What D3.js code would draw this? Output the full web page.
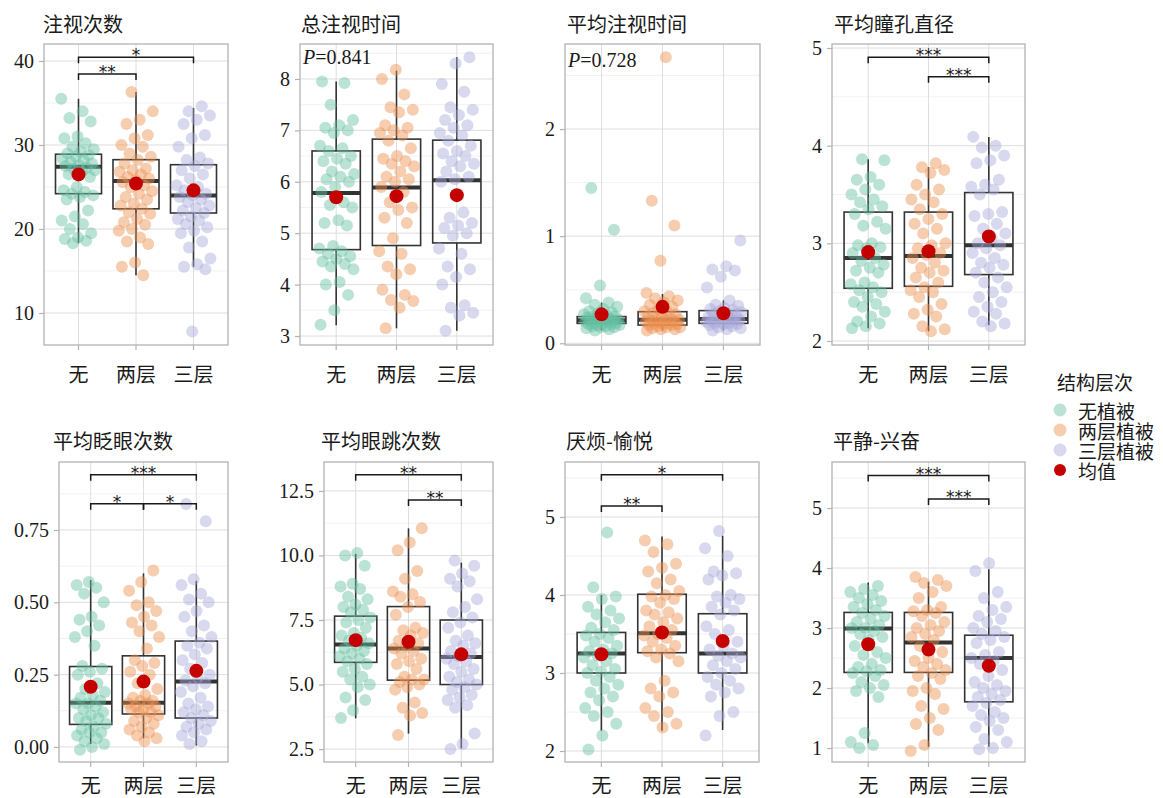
<!DOCTYPE html>
<html>
<head>
<meta charset="utf-8">
<script src="https://cdn.jsdelivr.net/npm/d3@7"></script>
<style>
  body { margin: 0; background: #fff; }
  svg { display: block; }
  .tick text { font-family: "Liberation Serif", "DejaVu Serif", serif; font-size: 20px; }
</style>
</head>
<body>
<svg width="1163" height="798"></svg>
<script>
// categorieen en teksten
const groups = ['无', '两层', '三层'];
const legendTitle = '结构层次';
const legendLabels = ['无植被', '两层植被', '三层植被', '均值'];
const titles = ['注视次数', '总注视时间', '平均注视时间', '平均瞳孔直径',
                '平均眨眼次数', '平均眼跳次数', '厌烦-愉悦', '平静-兴奋'];

const fixCount = [
  [35.5, 34.0, 33.2, 32.8, 31.0, 30.8, 30.2, 29.8, 29.5, 29.2, 29.0, 28.8, 28.6, 28.4, 28.2, 28.0, 27.8, 27.6, 27.5, 27.3, 27.2, 27.0, 26.8, 26.5, 26.2, 25.0, 24.6, 24.4, 24.2, 24.0, 23.8, 23.5, 22.2, 21.5, 21.0, 20.6, 20.0, 19.5, 19.0, 18.8, 18.6, 18.3],
  [36.3, 34.0, 33.0, 32.5, 31.2, 30.8, 30.0, 29.8, 29.0, 28.6, 28.2, 27.8, 27.2, 27.0, 26.8, 26.5, 26.2, 26.0, 25.8, 25.6, 25.2, 25.0, 24.5, 24.2, 23.8, 23.5, 23.0, 22.8, 22.4, 22.0, 21.8, 21.2, 20.8, 20.5, 20.0, 19.8, 19.0, 18.5, 18.2, 16.0, 15.5, 14.5],
  [34.6, 34.0, 33.5, 33.0, 32.5, 31.2, 30.8, 29.8, 28.5, 28.2, 27.8, 27.5, 27.0, 26.5, 26.0, 25.2, 25.0, 24.6, 24.2, 24.0, 23.8, 23.5, 23.2, 22.8, 22.5, 22.2, 21.9, 21.5, 21.2, 21.0, 20.6, 20.2, 19.8, 19.5, 18.5, 17.8, 16.5, 15.8, 15.5, 15.2, 7.8]
];
const fixTotal = [
  [7.95, 7.92, 7.5, 7.2, 7.1, 7.05, 7.0, 6.95, 6.7, 6.65, 6.6, 6.5, 6.45, 6.4, 6.35, 6.2, 6.15, 6.1, 6.05, 6.0, 5.9, 5.8, 5.6, 5.55, 5.5, 5.25, 5.2, 5.15, 4.75, 4.7, 4.65, 4.6, 4.55, 4.5, 4.45, 4.4, 4.35, 4.3, 4.05, 4.0, 3.8, 3.5, 3.22],
  [8.18, 8.0, 7.7, 7.45, 7.4, 7.35, 7.1, 7.05, 7.0, 6.95, 6.9, 6.8, 6.65, 6.5, 6.45, 6.4, 6.35, 6.3, 6.2, 6.1, 6.05, 6.0, 5.9, 5.8, 5.6, 5.5, 5.45, 5.3, 5.2, 4.9, 4.65, 4.6, 4.35, 4.3, 4.2, 3.9, 3.8, 3.7, 3.68, 3.55, 3.15],
  [8.42, 8.3, 7.9, 7.75, 7.45, 7.4, 7.3, 7.2, 7.1, 7.05, 6.95, 6.9, 6.8, 6.7, 6.6, 6.55, 6.5, 6.4, 6.35, 6.3, 6.2, 6.1, 6.05, 6.0, 5.4, 5.3, 5.2, 5.15, 5.1, 5.0, 4.95, 4.7, 4.6, 4.35, 4.3, 4.15, 4.0, 3.6, 3.55, 3.45, 3.4, 3.1]
];
const fixMean = [
  [1.45, 1.06, 0.54, 0.42, 0.38, 0.36, 0.34, 0.32, 0.30, 0.29, 0.28, 0.27, 0.26, 0.25, 0.25, 0.24, 0.24, 0.23, 0.23, 0.22, 0.22, 0.21, 0.21, 0.21, 0.20, 0.20, 0.19, 0.19, 0.19, 0.18, 0.18, 0.17, 0.17, 0.16, 0.16, 0.15, 0.15, 0.14, 0.13, 0.12],
  [2.67, 1.33, 1.10, 0.77, 0.47, 0.44, 0.42, 0.40, 0.38, 0.36, 0.34, 0.32, 0.30, 0.29, 0.28, 0.27, 0.26, 0.25, 0.24, 0.23, 0.22, 0.22, 0.21, 0.21, 0.20, 0.20, 0.19, 0.19, 0.18, 0.18, 0.17, 0.17, 0.16, 0.15, 0.15, 0.14, 0.13, 0.13, 0.12],
  [0.96, 0.72, 0.69, 0.68, 0.62, 0.52, 0.40, 0.36, 0.35, 0.33, 0.32, 0.31, 0.30, 0.29, 0.28, 0.27, 0.26, 0.25, 0.24, 0.23, 0.23, 0.22, 0.22, 0.21, 0.21, 0.20, 0.20, 0.19, 0.19, 0.18, 0.18, 0.17, 0.16, 0.15, 0.14, 0.13, 0.12]
];
const pupil = [
  [3.86, 3.85, 3.68, 3.65, 3.6, 3.55, 3.5, 3.45, 3.42, 3.38, 3.35, 3.3, 3.22, 3.18, 3.15, 3.0, 2.98, 2.96, 2.95, 2.9, 2.85, 2.82, 2.78, 2.75, 2.72, 2.7, 2.6, 2.58, 2.55, 2.52, 2.5, 2.45, 2.4, 2.38, 2.35, 2.3, 2.25, 2.2, 2.18, 2.15, 2.13],
  [3.82, 3.78, 3.75, 3.72, 3.6, 3.55, 3.5, 3.45, 3.42, 3.35, 3.3, 3.25, 3.2, 3.15, 3.1, 3.0, 2.98, 2.95, 2.9, 2.88, 2.85, 2.8, 2.75, 2.72, 2.7, 2.65, 2.6, 2.55, 2.52, 2.5, 2.45, 2.38, 2.32, 2.28, 2.25, 2.15, 2.12, 2.1],
  [4.09, 4.0, 3.98, 3.9, 3.85, 3.82, 3.65, 3.6, 3.58, 3.55, 3.5, 3.32, 3.3, 3.28, 3.2, 3.15, 3.1, 3.05, 3.0, 2.98, 2.95, 2.9, 2.85, 2.8, 2.78, 2.75, 2.7, 2.65, 2.6, 2.55, 2.5, 2.45, 2.4, 2.35, 2.3, 2.28, 2.2, 2.18, 2.15]
];
const blinks = [
  [0.57, 0.56, 0.55, 0.53, 0.50, 0.45, 0.44, 0.42, 0.40, 0.38, 0.35, 0.28, 0.27, 0.26, 0.25, 0.22, 0.20, 0.19, 0.18, 0.17, 0.16, 0.15, 0.15, 0.14, 0.13, 0.12, 0.11, 0.10, 0.10, 0.09, 0.08, 0.07, 0.06, 0.05, 0.05, 0.04, 0.03, 0.02, 0.01, 0.0, -0.01],
  [0.61, 0.57, 0.54, 0.50, 0.49, 0.47, 0.45, 0.43, 0.42, 0.40, 0.38, 0.34, 0.30, 0.29, 0.28, 0.26, 0.25, 0.22, 0.20, 0.18, 0.17, 0.16, 0.16, 0.15, 0.15, 0.14, 0.14, 0.13, 0.13, 0.12, 0.12, 0.11, 0.10, 0.09, 0.08, 0.07, 0.06, 0.05, 0.04, 0.03, 0.02],
  [0.84, 0.78, 0.58, 0.56, 0.53, 0.51, 0.50, 0.47, 0.45, 0.42, 0.40, 0.38, 0.36, 0.35, 0.34, 0.32, 0.30, 0.29, 0.27, 0.25, 0.24, 0.23, 0.22, 0.21, 0.19, 0.17, 0.15, 0.14, 0.13, 0.12, 0.11, 0.10, 0.09, 0.08, 0.07, 0.06, 0.05, 0.04, 0.02, 0.01]
];
const saccades = [
  [10.1, 10.0, 9.6, 8.9, 8.8, 8.7, 8.4, 8.3, 8.1, 8.0, 7.9, 7.8, 7.6, 7.5, 7.4, 7.2, 7.0, 6.9, 6.8, 6.7, 6.6, 6.5, 6.4, 6.3, 6.2, 6.1, 6.0, 5.9, 5.8, 5.6, 5.5, 5.3, 5.2, 5.0, 4.9, 4.5, 4.4, 4.0, 3.7],
  [11.05, 10.5, 10.2, 9.4, 9.1, 8.6, 8.5, 8.4, 8.2, 8.0, 7.7, 7.2, 7.1, 7.0, 6.9, 6.7, 6.6, 6.5, 6.4, 6.3, 6.2, 6.0, 5.9, 5.8, 5.6, 5.3, 5.2, 5.2, 5.1, 5.0, 4.9, 4.8, 4.3, 4.1, 3.9, 3.8, 3.05],
  [9.8, 9.6, 9.3, 9.1, 9.0, 8.8, 8.3, 8.0, 7.8, 7.6, 7.4, 7.2, 6.9, 6.7, 6.6, 6.5, 6.3, 6.2, 6.1, 6.0, 5.9, 5.8, 5.6, 5.5, 5.3, 5.2, 5.1, 5.0, 4.9, 4.8, 4.6, 4.5, 4.4, 4.2, 4.1, 3.1, 2.7, 2.5]
];
const pleasure = [
  [4.8, 4.1, 3.98, 3.95, 3.85, 3.8, 3.75, 3.7, 3.65, 3.58, 3.55, 3.5, 3.48, 3.45, 3.4, 3.35, 3.3, 3.28, 3.25, 3.22, 3.2, 3.15, 3.1, 3.05, 3.02, 3.0, 2.95, 2.9, 2.85, 2.8, 2.75, 2.7, 2.65, 2.55, 2.5, 2.45, 2.35, 2.2, 2.02],
  [4.7, 4.65, 4.55, 4.4, 4.35, 4.3, 4.2, 4.15, 4.05, 4.0, 3.98, 3.95, 3.9, 3.8, 3.78, 3.75, 3.7, 3.65, 3.6, 3.55, 3.5, 3.48, 3.45, 3.4, 3.35, 3.3, 3.28, 3.25, 3.2, 3.15, 2.9, 2.8, 2.75, 2.7, 2.55, 2.5, 2.45, 2.35, 2.3],
  [4.82, 4.6, 4.5, 4.3, 4.28, 4.25, 4.2, 4.0, 3.98, 3.95, 3.9, 3.85, 3.8, 3.75, 3.6, 3.55, 3.5, 3.4, 3.35, 3.3, 3.25, 3.22, 3.2, 3.15, 3.1, 3.05, 3.0, 2.95, 2.9, 2.85, 2.8, 2.75, 2.7, 2.5, 2.45, 2.2]
];
const arousal = [
  [3.7, 3.65, 3.6, 3.55, 3.5, 3.45, 3.4, 3.35, 3.3, 3.25, 3.2, 3.15, 3.1, 3.05, 3.0, 3.0, 2.95, 2.9, 2.85, 2.8, 2.7, 2.6, 2.55, 2.5, 2.4, 2.35, 2.3, 2.28, 2.25, 2.2, 2.1, 2.05, 2.0, 1.95, 1.85, 1.25, 1.1, 1.05, 1.0],
  [3.85, 3.8, 3.75, 3.7, 3.6, 3.5, 3.35, 3.3, 3.28, 3.25, 3.2, 3.1, 3.05, 3.0, 2.95, 2.9, 2.85, 2.8, 2.7, 2.6, 2.5, 2.45, 2.4, 2.35, 2.3, 2.25, 2.2, 2.15, 2.0, 1.95, 1.9, 1.7, 1.65, 1.5, 1.4, 1.3, 1.05, 0.95],
  [4.08, 3.95, 3.6, 3.5, 3.35, 3.3, 3.2, 3.15, 3.1, 3.0, 2.95, 2.9, 2.85, 2.8, 2.75, 2.6, 2.55, 2.5, 2.45, 2.4, 2.3, 2.2, 2.1, 2.05, 2.0, 1.95, 1.9, 1.85, 1.8, 1.75, 1.7, 1.6, 1.55, 1.5, 1.45, 1.35, 1.3, 1.15, 1.1, 1.0, 0.98]
];
const points = [fixCount, fixTotal, fixMean, pupil, blinks, saccades, pleasure, arousal];

// boxplot: [onder snorhaar, q1, mediaan, q3, boven snorhaar] per groep
const boxes = [
  [[18.3, 24.2, 27.4, 28.9, 35.5], [14.5, 22.4, 25.7, 28.25, 36.3], [15.5, 21.9, 24.0, 27.65, 34.4]],
  [[3.21, 4.68, 5.78, 6.60, 7.95], [3.15, 4.76, 5.89, 6.83, 8.16], [3.10, 4.81, 6.03, 6.81, 8.42]],
  [[0.12, 0.186, 0.214, 0.249, 0.38], [0.12, 0.17, 0.22, 0.295, 0.46], [0.12, 0.186, 0.226, 0.305, 0.40]],
  [[2.13, 2.54, 2.85, 3.32, 3.86], [2.10, 2.56, 2.87, 3.32, 3.78], [2.16, 2.68, 2.98, 3.52, 4.09]],
  [[0.01, 0.078, 0.153, 0.278, 0.577], [0.03, 0.114, 0.153, 0.315, 0.60], [0.005, 0.10, 0.226, 0.366, 0.574]],
  [[3.69, 5.86, 6.55, 7.65, 10.06], [3.1, 5.17, 6.40, 8.02, 11.05], [2.53, 5.0, 6.07, 7.5, 9.72]],
  [[2.26, 3.0, 3.25, 3.52, 4.0], [2.26, 3.26, 3.51, 4.01, 4.75], [2.27, 3.0, 3.25, 3.76, 4.76]],
  [[1.08, 2.26, 2.99, 3.26, 3.76], [1.02, 2.26, 2.76, 3.26, 3.77], [1.02, 1.77, 2.5, 2.88, 3.98]]
];
// gemiddelde per groep
const means = [
  [26.5, 25.4, 24.6], [5.70, 5.72, 5.74], [0.27, 0.34, 0.28], [2.91, 2.92, 3.07],
  [0.208, 0.226, 0.263], [6.72, 6.66, 6.17], [3.24, 3.52, 3.41], [2.73, 2.64, 2.37]
];

// y ticks en labels
const yTicks = [[10, 20, 30, 40], [3, 4, 5, 6, 7, 8], [0, 1, 2], [2, 3, 4, 5],
                [0, 0.25, 0.5, 0.75], [2.5, 5, 7.5, 10, 12.5], [2, 3, 4, 5], [1, 2, 3, 4, 5]];
const yTickFormat = ['d', 'd', 'd', 'd', '.2f', '.1f', 'd', 'd'];

// significantie: [van groep, naar groep, label, hoogte]
const sigs = [
  [[0, 1, '**', 38.45], [0, 2, '*', 40.44]],
  [],
  [],
  [[0, 2, '***', 4.905], [1, 2, '***', 4.706]],
  [[0, 2, '***', 0.941], [0, 1, '*', 0.841], [1, 2, '*', 0.841]],
  [[0, 2, '**', 13.13], [1, 2, '**', 12.15]],
  [[0, 2, '*', 5.54], [0, 1, '**', 5.14]],
  [[0, 2, '***', 5.54], [1, 2, '***', 5.15]]
];
const pValues = [null, '0.841', '0.728', null, null, null, null, null];

// layout van de 8 panelen (pixels)
const layout = [
  {x0: 44,  x1: 228,  y0: 44,  y1: 345, dom: [6.19, 42.02],  tx: 43,  ty: 23,  pY: 0},
  {x0: 300, x1: 493,  y0: 44,  y1: 345, dom: [2.825, 8.68],  tx: 301, ty: 23,  pY: 64},
  {x0: 565, x1: 760,  y0: 44,  y1: 345, dom: [-0.016, 2.794], tx: 567, ty: 23, pY: 67},
  {x0: 832, x1: 1025, y0: 44,  y1: 345, dom: [1.959, 5.041], tx: 834, ty: 23,  pY: 0},
  {x0: 59,  x1: 228,  y0: 462, y1: 762, dom: [-0.052, 0.985], tx: 53, ty: 440, pY: 0},
  {x0: 324, x1: 493,  y0: 462, y1: 762, dom: [2.0, 13.62],   tx: 321, ty: 440, pY: 0},
  {x0: 565, x1: 759,  y0: 462, y1: 762, dom: [1.859, 5.705], tx: 566, ty: 440, pY: 0},
  {x0: 832, x1: 1025, y0: 462, y1: 762, dom: [0.767, 5.767], tx: 833, ty: 440, pY: 0}
];

const colors = ['#66c2a5', '#ee9150', '#a9a9d9'];
const ptAlpha = 0.45;
const meanColor = '#c40000';
const cjk = '"Noto Sans CJK SC", "Noto Sans", sans-serif';
const serif = '"Liberation Serif", "DejaVu Serif", serif';

const svg = d3.select('svg');

layout.forEach((L, p) => {
  const g = svg.append('g');

  // ggplot: 0.6 extra aan elke kant -> midden van elke groep
  const step = (L.x1 - L.x0) / 3.2;
  const cx = i => L.x0 + step * (0.6 + i);
  const y = d3.scaleLinear().domain(L.dom).range([L.y1, L.y0]);

  // minor grid
  const t = yTicks[p];
  const st = t[1] - t[0];
  const minor = [t[0] - st / 2].concat(t.map(v => v + st / 2))
    .filter(v => v > L.dom[0] && v < L.dom[1]);
  g.selectAll('.minor').data(minor).enter().append('line')
    .attr('x1', L.x0).attr('x2', L.x1)
    .attr('y1', d => y(d)).attr('y2', d => y(d))
    .attr('stroke', '#efefef').attr('stroke-width', 0.8);
  // major grid
  g.selectAll('.major').data(t).enter().append('line')
    .attr('x1', L.x0).attr('x2', L.x1)
    .attr('y1', d => y(d)).attr('y2', d => y(d))
    .attr('stroke', '#dedede').attr('stroke-width', 1);
  g.selectAll('.vgrid').data(groups).enter().append('line')
    .attr('x1', (d, i) => cx(i)).attr('x2', (d, i) => cx(i))
    .attr('y1', L.y0).attr('y2', L.y1)
    .attr('stroke', '#dedede').attr('stroke-width', 1);

  // y as
  const yAxis = g.append('g')
    .attr('transform', `translate(${L.x0},0)`)
    .attr('font-family', serif).attr('font-size', 20)
    .call(d3.axisLeft(y).tickValues(t).tickFormat(d3.format(yTickFormat[p])).tickSize(5).tickPadding(5));
  yAxis.attr('font-family', serif).attr('font-size', 20);
  yAxis.select('.domain').remove();
  yAxis.selectAll('line').attr('stroke', '#b3b3b3').attr('stroke-width', 1.2);
  yAxis.selectAll('text').attr('fill', '#1a1a1a');

  // x as ticks en labels
  g.selectAll('.xtick').data(groups).enter().append('line')
    .attr('x1', (d, i) => cx(i)).attr('x2', (d, i) => cx(i))
    .attr('y1', L.y1).attr('y2', L.y1 + 5)
    .attr('stroke', '#b3b3b3').attr('stroke-width', 1.2);
  g.selectAll('.xlab').data(groups).enter().append('text')
    .attr('x', (d, i) => cx(i))
    .attr('y', L.y1 + (p < 4 ? 28 : 22))
    .attr('text-anchor', 'middle').attr('dominant-baseline', 'central')
    .style('font-family', cjk).style('font-size', '20px').attr('fill', '#1a1a1a')
    .text(d => d);

  // boxplots
  const bw = step * 0.8;
  boxes[p].forEach((b, i) => {
    const bx = cx(i);
    g.append('line').attr('x1', bx).attr('x2', bx).attr('y1', y(b[0])).attr('y2', y(b[1]))
      .attr('stroke', '#333').attr('stroke-width', 1.6);
    g.append('line').attr('x1', bx).attr('x2', bx).attr('y1', y(b[3])).attr('y2', y(b[4]))
      .attr('stroke', '#333').attr('stroke-width', 1.6);
    g.append('rect').attr('x', bx - bw / 2).attr('width', bw)
      .attr('y', y(b[3])).attr('height', y(b[1]) - y(b[3]))
      .attr('fill', 'none').attr('stroke', '#333').attr('stroke-width', 1.6);
    g.append('line').attr('x1', bx - bw / 2).attr('x2', bx + bw / 2)
      .attr('y1', y(b[2])).attr('y2', y(b[2]))
      .attr('stroke', '#333').attr('stroke-width', 4);
  });

  // jitter punten, vaste verdeling via gulden snede (geen random)
  points[p].forEach((vals, i) => {
    g.selectAll('.pt' + i).data(vals).enter().append('circle')
      .attr('cx', (d, k) => cx(i) + (((k * 0.6180339887 + i * 0.37 + p * 0.11) % 1) - 0.5) * 0.6 * step)
      .attr('cy', d => y(d))
      .attr('r', 6)
      .attr('fill', colors[i]).attr('fill-opacity', ptAlpha);
  });

  // gemiddelde
  g.selectAll('.mean').data(means[p]).enter().append('circle')
    .attr('cx', (d, i) => cx(i)).attr('cy', d => y(d))
    .attr('r', 7).attr('fill', meanColor);

  // rand van het paneel
  g.append('rect').attr('x', L.x0).attr('y', L.y0)
    .attr('width', L.x1 - L.x0).attr('height', L.y1 - L.y0)
    .attr('fill', 'none').attr('stroke', '#b3b3b3').attr('stroke-width', 1.3);

  // significantie haken
  sigs[p].forEach(s => {
    const yy = y(s[3]);
    const xa = cx(s[0]), xb = cx(s[1]);
    g.append('path')
      .attr('d', `M${xa},${yy + 6}V${yy}H${xb}V${yy + 6}`)
      .attr('fill', 'none').attr('stroke', '#1a1a1a').attr('stroke-width', 1.5);
    g.append('text').attr('x', (xa + xb) / 2).attr('y', yy + 4)
      .attr('text-anchor', 'middle')
      .style('font-family', '"DejaVu Sans", sans-serif').style('font-size', '17px')
      .attr('fill', '#1a1a1a').text(s[2]);
  });

  // P waarde
  if (pValues[p]) {
    const tx = g.append('text').attr('x', L.x0 + 3).attr('y', L.pY)
      .style('font-family', serif).style('font-size', '20px').attr('fill', '#1a1a1a');
    tx.append('tspan').style('font-style', 'italic').text('P');
    tx.append('tspan').text('=' + pValues[p]);
  }

  // titel
  g.append('text').attr('x', L.tx).attr('y', L.ty)
    .attr('dominant-baseline', 'central')
    .style('font-family', cjk).style('font-size', '20px').attr('fill', '#1a1a1a')
    .text(titles[p]);
});

// legenda
const lg = svg.append('g');
lg.append('text').attr('x', 1057).attr('y', 381).attr('dominant-baseline', 'central')
  .style('font-family', cjk).style('font-size', '19px').attr('fill', '#1a1a1a')
  .text(legendTitle);
lg.selectAll('.lc').data(legendLabels).enter().append('circle')
  .attr('cx', 1060).attr('cy', (d, i) => 410 + i * 20)
  .attr('r', (d, i) => i < 3 ? 6.5 : 6)
  .attr('fill', (d, i) => i < 3 ? colors[i] : meanColor)
  .attr('fill-opacity', (d, i) => i < 3 ? ptAlpha : 1);
lg.selectAll('.lt').data(legendLabels).enter().append('text')
  .attr('x', 1078).attr('y', (d, i) => 410 + i * 20)
  .attr('dominant-baseline', 'central')
  .style('font-family', cjk).style('font-size', '19px').attr('fill', '#1a1a1a')
  .text(d => d);
</script>
</body>
</html>
